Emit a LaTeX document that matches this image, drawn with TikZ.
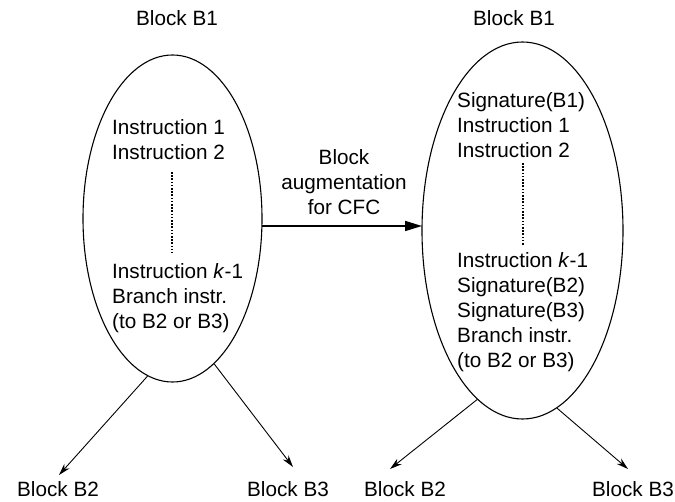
\documentclass[tikz,border=0pt]{standalone}
\usepackage{fontspec}
\setmainfont{Liberation Sans}
\usetikzlibrary{shapes.geometric,arrows.meta}
\begin{document}
\begin{tikzpicture}[x=1pt,y=-1pt,
  txt/.style={font=\fontsize{20.7}{25}\selectfont, inner sep=0pt},
  blk/.style={draw, line width=1.1pt, ellipse, inner sep=0pt},
  br/.style={line width=0.9pt, -{Stealth[length=12pt,width=7pt]}},
  big/.style={line width=1.6pt, -{Triangle[length=17pt,width=10pt]}},
  dots/.style={line width=1.1pt, dash pattern=on 1.6pt off 1.6pt}]
\useasboundingbox (0,0) rectangle (675,502);
% ellipses
\node[blk, minimum width=179pt, minimum height=327pt] (L) at (172.5,218.5) {};
\node[blk, minimum width=201pt, minimum height=377pt] (R) at (522.5,230.5) {};
% titles
\node[txt] (tL) at (177,18) {Block B1};
\node[txt] (tR) at (514,18) {Block B1};
% left texts
\node[txt, anchor=west, align=left] (L1) at (112,139.5) {Instruction 1\\Instruction 2};
\node[txt, anchor=west, align=left] (L2) at (112,298) {Instruction \textit{k}-1\\Branch instr.\\(to B2 or B3)};
% right texts
\node[txt, anchor=west, align=left] (R1) at (457,125) {Signature(B1)\\Instruction 1\\Instruction 2};
\node[txt, anchor=west, align=left] (R2) at (457,312) {Instruction \textit{k}-1\\Signature(B2)\\Signature(B3)\\Branch instr.\\(to B2 or B3)};
% dotted lines
\coordinate (d1a) at (172,172); \coordinate (d1b) at (172,253);
\coordinate (d2a) at (523,163); \coordinate (d2b) at (523,245);
\draw[dots] (d1a) -- (d1b);
\draw[dots] (d2a) -- (d2b);
% middle
\node[txt, align=center] (M) at (344,182) {Block\\augmentation\\for CFC};
\coordinate (aS) at (262,226);
\coordinate (aE) at (422,226);
\draw[big] (aS) -- (aE);
% bottom labels
\node[txt] (b1) at (58,489) {Block B2};
\node[txt] (b2) at (288,489) {Block B3};
\node[txt] (b3) at (405,489) {Block B2};
\node[txt] (b4) at (633,489) {Block B3};
\coordinate (t1) at (59,475);
\coordinate (t2) at (293,467);
\coordinate (t3) at (390,469);
\coordinate (t4) at (628,469);
\draw[br] (L.-99.1) -- (t1);
\draw[br] (L.-74.3) -- (t2);
\draw[br] (R.-105.2) -- (t3);
\draw[br] (R.-79.0) -- (t4);
\end{tikzpicture}
\end{document}
